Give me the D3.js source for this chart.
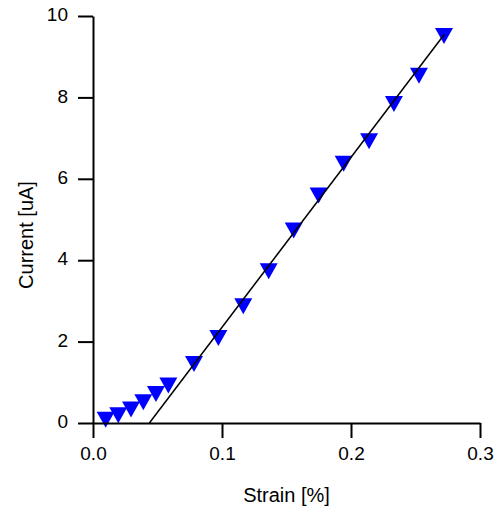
<!DOCTYPE html>
<html lang="en">
<head>
    <meta charset="UTF-8">
    <title>Current vs Strain</title>
    <script src="https://d3js.org/d3.v7.min.js"></script>
    <style>
        body {
            margin: 0;
            background: #fff;
            font-family: "Liberation Sans", Arial, sans-serif;
        }
        .tick text {
            font-size: 19px;
            fill: #000;
        }
        .axis-title {
            font-size: 20px;
            fill: #000;
        }
    </style>
</head>
<body>
    <div id="chart"></div>
    <script>
        // measured points
        const strain = [0.0098, 0.0196, 0.0295, 0.0390, 0.0488, 0.0584, 0.0783, 0.0972, 0.1165,
                        0.1362, 0.1556, 0.1749, 0.1943, 0.2140, 0.2333, 0.2527, 0.2721];
        const current = [0.08, 0.19, 0.33, 0.51, 0.71, 0.92, 1.45, 2.09, 2.87,
                         3.73, 4.73, 5.59, 6.37, 6.92, 7.84, 8.53, 9.51];
        // linear fit line end points
        const fitStrain = [0.0437, 0.2724];
        const fitCurrent = [0, 9.55];

        const xTicks = [0, 0.1, 0.2, 0.3];
        const yTicks = [0, 2, 4, 6, 8, 10];

        const width = 494, height = 506;
        const margin = { top: 16, right: 14, bottom: 83, left: 93 };

        const x = d3.scaleLinear().domain([0, 0.3]).range([margin.left, width - margin.right]);
        const y = d3.scaleLinear().domain([0, 10]).range([height - margin.bottom, margin.top]);

        const svg = d3.select("#chart").append("svg")
            .attr("width", width)
            .attr("height", height);

        const points = strain.map((s, i) => ({ x: s, y: current[i] }));

        // markers (downward triangles)
        svg.append("g")
            .selectAll("path")
            .data(points)
            .enter()
            .append("path")
            .attr("d", "M-9,-8L9,-8L0,8Z")
            .attr("transform", d => `translate(${x(d.x)},${y(d.y)})`)
            .attr("fill", "#0000ff");

        // fit line on top of markers
        const fit = fitStrain.map((s, i) => ({ x: s, y: fitCurrent[i] }));
        svg.append("path")
            .datum(fit)
            .attr("d", d3.line().x(d => x(d.x)).y(d => y(d.y)))
            .attr("fill", "none")
            .attr("stroke", "#000")
            .attr("stroke-width", 1.5);

        // axes
        const xAxis = svg.append("g")
            .attr("transform", `translate(0,${height - margin.bottom})`)
            .call(d3.axisBottom(x).tickValues(xTicks).tickFormat(d3.format(".1f"))
                .tickSizeInner(15).tickSizeOuter(0).tickPadding(9));
        const yAxis = svg.append("g")
            .attr("transform", `translate(${margin.left},0)`)
            .call(d3.axisLeft(y).tickValues(yTicks).tickFormat(d3.format("d"))
                .tickSizeInner(15).tickSizeOuter(0).tickPadding(10));

        [xAxis, yAxis].forEach(g => {
            g.select(".domain").attr("stroke", "#000").attr("stroke-width", 2);
            g.selectAll(".tick line").attr("stroke", "#000").attr("stroke-width", 2);
            g.attr("font-family", null).attr("font-size", null);
        });
        yAxis.selectAll(".tick text").attr("dy", "0.25em");

        // titles
        svg.append("text")
            .attr("class", "axis-title")
            .attr("x", (margin.left + width - margin.right) / 2)
            .attr("y", 502)
            .attr("text-anchor", "middle")
            .text("Strain [%]");

        svg.append("text")
            .attr("class", "axis-title")
            .attr("transform", "translate(33,235) rotate(-90)")
            .attr("text-anchor", "middle")
            .text("Current [uA]");
    </script>
</body>
</html>
